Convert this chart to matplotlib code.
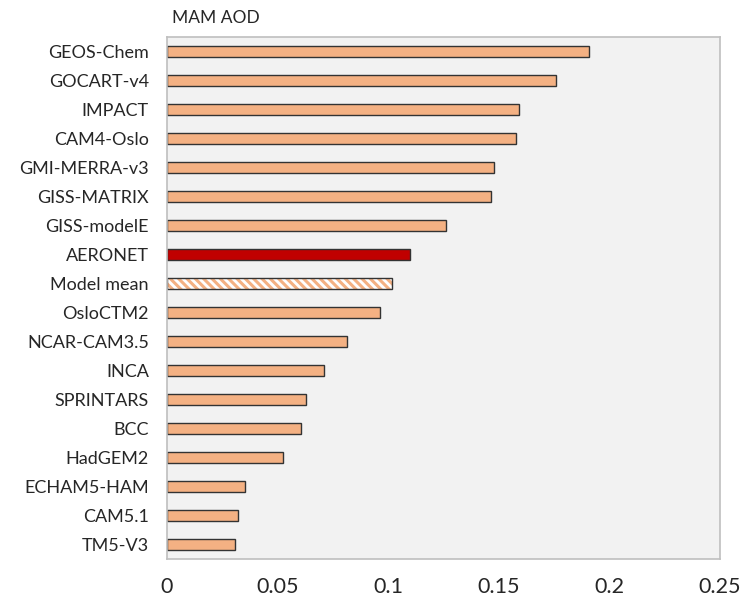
import matplotlib
matplotlib.use("Agg")
from matplotlib import pyplot as plt
import numpy as np

plt.rcParams['font.family'] = ['Lato', 'DejaVu Sans']
plt.rcParams['hatch.linewidth'] = 2.2

# модели и значения AOD (март-апрель-май)
models = ['GEOS-Chem', 'GOCART-v4', 'IMPACT', 'CAM4-Oslo', 'GMI-MERRA-v3',
          'GISS-MATRIX', 'GISS-modelE', 'AERONET', 'Model mean', 'OsloCTM2',
          'NCAR-CAM3.5', 'INCA', 'SPRINTARS', 'BCC', 'HadGEM2', 'ECHAM5-HAM',
          'CAM5.1', 'TM5-V3']
aod = [0.191, 0.176, 0.159, 0.158, 0.148, 0.1465, 0.126, 0.110, 0.1017,
       0.0963, 0.0814, 0.071, 0.0628, 0.0606, 0.0524, 0.0353, 0.0321, 0.0307]
xticks = [0, 0.05, 0.1, 0.15, 0.2, 0.25]
xticklabels = ['0', '0.05', '0.1', '0.15', '0.2', '0.25']

fig = plt.figure(figsize=(7.43, 6.0), dpi=100)
ax = fig.add_axes([0.2248, 0.0683, 0.969 - 0.2248, 0.938 - 0.0683])
ax.set_facecolor('#f2f2f2')

y = np.arange(len(models))
h = 0.36
for i, (name, v) in enumerate(zip(models, aod)):
    if name == 'AERONET':
        ax.barh(i, v, height=h, color='#c00000', edgecolor='#333333', linewidth=1)
    elif name == 'Model mean':
        # штриховка: белый фон с оранжевыми полосками
        ax.barh(i, v, height=h, color='white', edgecolor='#f4b183',
                hatch='\\\\\\\\', linewidth=0)
        ax.barh(i, v, height=h, fill=False, edgecolor='#333333', linewidth=1)
    else:
        ax.barh(i, v, height=h, color='#f4b183', edgecolor='#333333', linewidth=1)

ax.set_ylim(len(models) - 0.5, -0.5)
ax.set_xlim(0, 0.25)
ax.set_yticks(y)
ax.set_yticklabels(models, fontsize=13, color='#262626')
ax.set_xticks(xticks)
ax.set_xticklabels(xticklabels, fontsize=15.5, color='#262626')
ax.tick_params(axis='both', length=0)
ax.tick_params(axis='x', pad=13)
ax.tick_params(axis='y', pad=13)
for s in ax.spines.values():
    s.set_color('#bfbfbf')
    s.set_linewidth(1.2)

fig.text(172 / 743, 1 - 18 / 600, 'MAM AOD', fontsize=12.5, va='center',
         ha='left', color='#262626')

plt.savefig('out.png', dpi=100)
